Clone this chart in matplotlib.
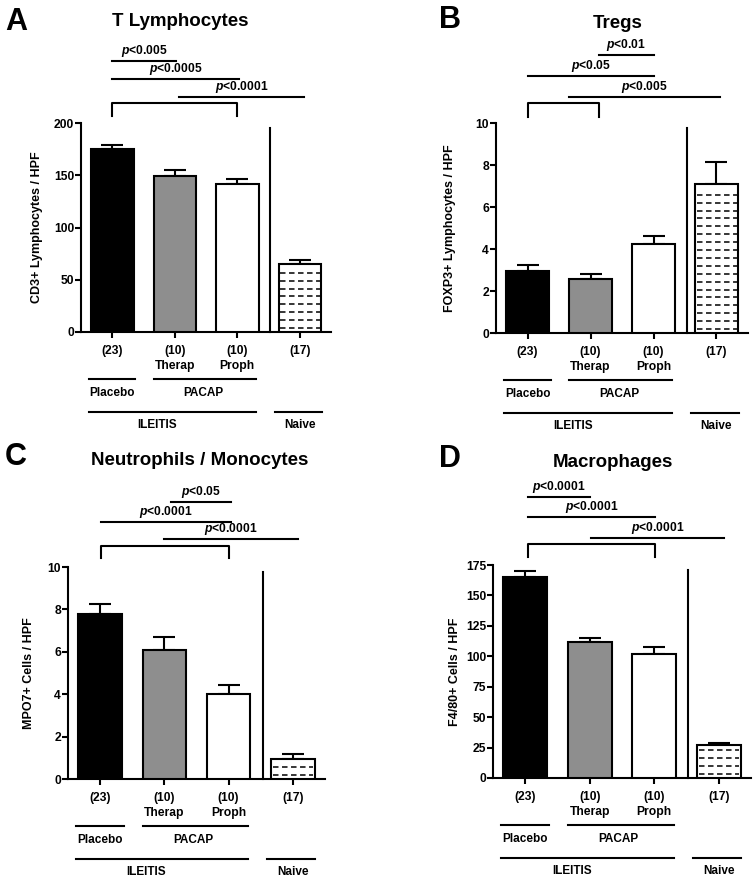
import matplotlib
matplotlib.use('Agg')
import matplotlib.pyplot as plt
import numpy as np
from matplotlib.transforms import blended_transform_factory

plt.rcParams['font.family'] = ['Liberation Sans', 'DejaVu Sans']
plt.rcParams['font.weight'] = 'bold'
plt.rcParams['axes.labelweight'] = 'bold'
plt.rcParams['mathtext.fontset'] = 'custom'
plt.rcParams['mathtext.it'] = 'Liberation Sans:italic:bold'
plt.rcParams['mathtext.rm'] = 'Liberation Sans:bold'
plt.rcParams['axes.linewidth'] = 1.5

W, H = 756, 881

# data
n_labels = ['(23)', '(10)', '(10)', '(17)']
sub_labels = ['', 'Therap', 'Proph', '']
bar_colors = ['black', '#8e8e8e', 'white', 'white']

titles = ['T Lymphocytes', 'Tregs', 'Neutrophils / Monocytes', 'Macrophages']
letters = ['A', 'B', 'C', 'D']
ylabels = ['CD3+ Lymphocytes / HPF', 'FOXP3+ Lymphocytes / HPF',
           'MPO7+ Cells / HPF', 'F4/80+ Cells / HPF']

means_A = [175, 149.5, 142, 65]
sem_A = [4, 5.5, 4.5, 4]
means_B = [2.97, 2.57, 4.24, 7.1]
sem_B = [0.25, 0.24, 0.36, 1.02]
means_C = [7.8, 6.08, 4.0, 0.95]
sem_C = [0.45, 0.6, 0.43, 0.22]
means_D = [165, 111.5, 102, 27.3]
sem_D = [5, 3.5, 6, 1.4]

ymax = [200, 10, 10, 175]
ystep = [50, 2, 2, 25]

# significance lines: (from, to, text)
sig_A = [(0, 1.02, 'p<0.005'), (0, 2.03, 'p<0.0005'), (1.07, 3.06, 'p<0.0001')]
sig_B = [(1.13, 2.0, 'p<0.01'), (0, 2.0, 'p<0.05'), (0.66, 3.06, 'p<0.005')]
sig_C = [(1.11, 2.03, 'p<0.05'), (0.02, 2.03, 'p<0.0001'), (1.0, 3.08, 'p<0.0001')]
sig_D = [(0.04, 1.0, 'p<0.0001'), (0.04, 2.01, 'p<0.0001'), (1.02, 3.08, 'p<0.0001')]
brackets = [(0, 2.0), (0, 1.13), (0.02, 2.0), (0.04, 2.01)]

means = [means_A, means_B, means_C, means_D]
sems = [sem_A, sem_B, sem_C, sem_D]
sigs = [sig_A, sig_B, sig_C, sig_D]

# layout in pixels
rects = [(81, 123, 331, 332), (496, 123, 748, 333),
         (68, 567, 325, 779), (493, 565, 751, 778)]
sig_levels = [(62, 44, 26, 20, 7), (68, 47, 26, 20, 6),
              (65, 45, 28, 21, 9), (68, 48, 27, 21, 8)]
title_pos = [(180, 26), (618, 28), (200, 465), (613, 467)]
letter_pos = [(16, 30), (450, 28), (16, 465), (450, 467)]
ylabel_x = [43, 456, 35, 461]

fig = plt.figure(figsize=(W / 100, H / 100), dpi=100)
x = np.arange(4)
width = 0.68

for i in range(4):
    l, t, r, b = rects[i]
    hpx = b - t
    ax = fig.add_axes([l / W, 1 - b / H, (r - l) / W, hpx / H])
    tr = blended_transform_factory(ax.transData, ax.transAxes)

    bars = ax.bar(x, means[i], width, color=bar_colors, edgecolor='black',
                  linewidth=1.5, zorder=3)
    ax.errorbar(x, means[i], yerr=[np.zeros(4), sems[i]], fmt='none',
                ecolor='black', elinewidth=1.5, capsize=8, capthick=1.5, zorder=2)

    # dashed fill for naive bar
    top_px = means[i][3] / ymax[i] * hpx
    for ypx in np.arange(4, top_px - 3, 7.9):
        yv = ypx / hpx * ymax[i]
        ax.plot([3 - width / 2 + 0.03, 3 + width / 2 - 0.02], [yv, yv], color='black',
                lw=1.1, linestyle=(0, (3.6, 2.3)), zorder=4)

    ax.set_xlim(-0.5, 3.5)
    ax.set_ylim(0, ymax[i])
    ax.set_yticks(np.arange(0, ymax[i] + 0.001, ystep[i]))
    ax.set_xticks(x)
    ax.set_xticklabels([])
    ax.tick_params(direction='out', length=4, width=1.5, labelsize=8.7, pad=1)
    for lab in ax.get_yticklabels():
        lab.set_fontweight('bold')
    for s in ['top', 'right']:
        ax.spines[s].set_visible(False)

    # separator line
    ax.plot([2.53, 2.53], [0, 0.975], transform=tr, color='black', lw=1.5,
            clip_on=False)

    # significance
    lv = sig_levels[i]
    for k, (x0, x1, txt) in enumerate(sigs[i]):
        yy = 1 + lv[k] / hpx
        ax.plot([x0, x1], [yy, yy], transform=tr, color='black', lw=1.5, clip_on=False)
        ax.text((x0 + x1) / 2, yy + 2 / hpx, r'$\mathit{p}$' + txt[1:], transform=tr,
                ha='center', va='bottom', fontsize=8.7)
    bx0, bx1 = brackets[i]
    yt = 1 + lv[3] / hpx
    yl = 1 + lv[4] / hpx
    ax.plot([bx0, bx0, bx1, bx1], [yl, yt, yt, yl], transform=tr, color='black',
            lw=1.5, clip_on=False)

    # labels under axis
    def fy(d):
        return -d / hpx
    for j in range(4):
        ax.text(x[j], fy(19), n_labels[j], transform=tr, ha='center', va='center',
                fontsize=8.7)
        if sub_labels[j]:
            ax.text(x[j], fy(34), sub_labels[j], transform=tr, ha='center',
                    va='center', fontsize=8.7)
    for x0, x1, yd in [(-0.38, 0.37, 47), (0.66, 2.3, 47), (-0.38, 2.3, 80),
                       (2.6, 3.35, 80)]:
        ax.plot([x0, x1], [fy(yd), fy(yd)], transform=tr, color='black', lw=1.5,
                clip_on=False)
    ax.text(0, fy(61), 'Placebo', transform=tr, ha='center', va='center', fontsize=8.5)
    ax.text(1.45, fy(61), 'PACAP', transform=tr, ha='center', va='center', fontsize=8.5)
    ax.text(0.72, fy(93), 'ILEITIS', transform=tr, ha='center', va='center', fontsize=8.5)
    ax.text(3.0, fy(93), 'Naive', transform=tr, ha='center', va='center', fontsize=8.5)

    ax.set_ylabel(ylabels[i], fontsize=9)
    ax.yaxis.set_label_coords(ylabel_x[i] / W, 1 - (t + b) / 2 / H,
                              transform=fig.transFigure)

    fig.text(title_pos[i][0] / W, 1 - title_pos[i][1] / H, titles[i],
             ha='center', va='baseline', fontsize=13.5)
    fig.text(letter_pos[i][0] / W, 1 - letter_pos[i][1] / H, letters[i],
             ha='center', va='baseline', fontsize=22)

fig.savefig('out.png', dpi=100)
